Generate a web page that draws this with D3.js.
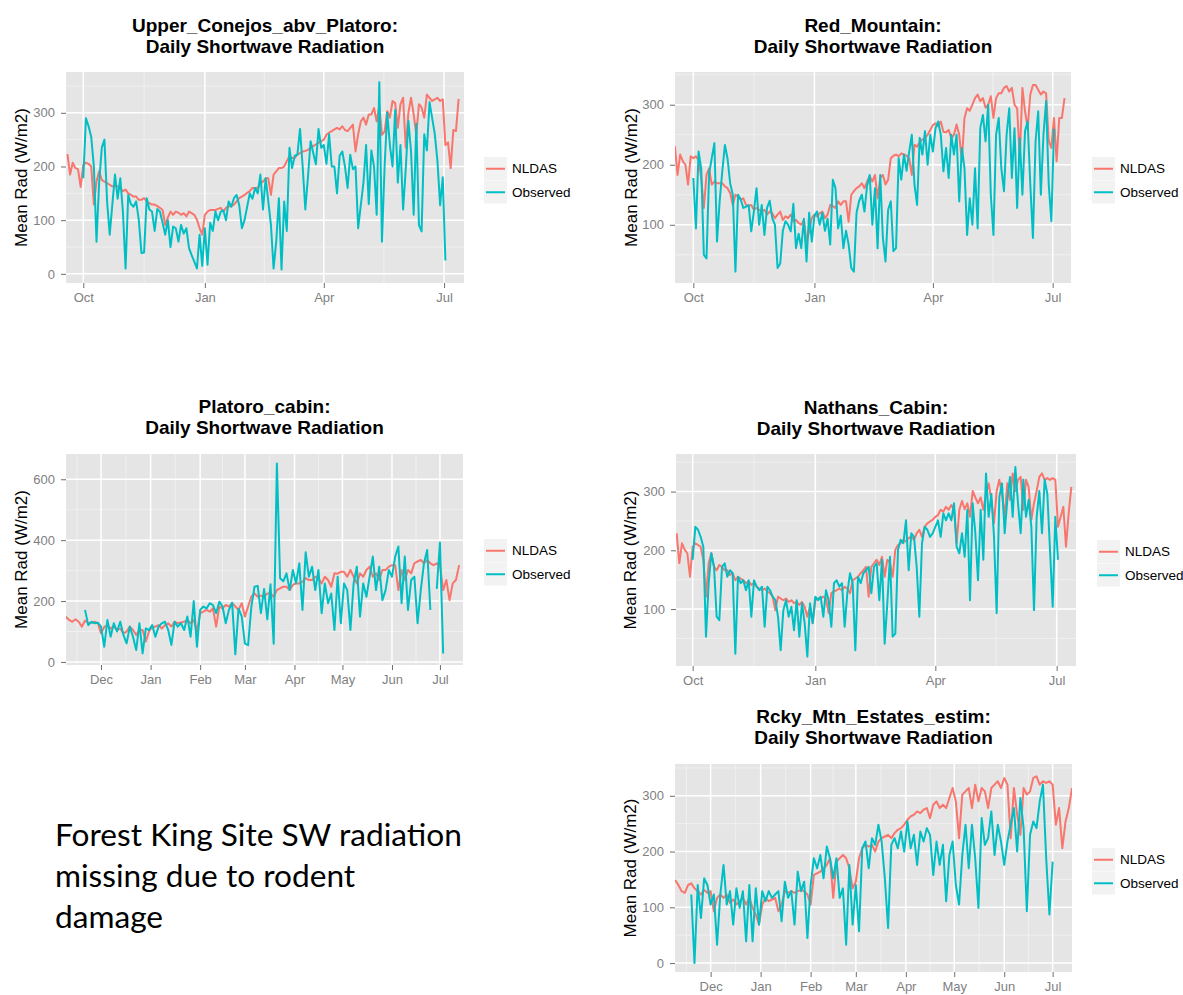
<!DOCTYPE html>
<html>
<head>
<meta charset="utf-8">
<script src="https://cdn.jsdelivr.net/npm/d3@7"></script>
<style>
  body { margin: 0; background: #fff; }
  svg text { font-family: "Liberation Sans", Arial, Helvetica, sans-serif; }
</style>
</head>
<body>
<svg id="chart" width="1183" height="995"></svg>
<script>
// Daily shortwave radiation, NLDAS vs observed, five SNOTEL-ish sites.
// Values every 2nd day (W/m2); null = gap in record.
const STEP_DAYS = 2;
const SERIES = ["NLDAS", "Observed"];
const COLORS = ["#F8766D", "#00BFC4"];

const upperNldasStart = "2013-09-19";
const upperNldas = [223,185,207,197,195,162,203,207,205,200, 129,172,191,175,172,169,166,163,163,163,
  160,154,157,150,147,144,144,138,138,141, 135,132,129,129,126,123,119,91,105,116,
  110,116,114,110,113,107,116,113,110,101, 85,73,110,116,119,119,119,121,123,116,
  123,126,126,129,135,141,144,147,151,154, 160,160,160,169,172,178,178,147,185,191,
  197,197,200,210,219,216,216,222,225,228, 229,231,235,238,241,244,247,250,259,263,
  266,269,272,269,275,268,266,272,278,228, 260,284,291,278,297,297,309,284,313,259,
  265,303,291,322,318,272,316,328,235,300, 328,297,259,316,310,291,334,328,322,325,
  328,322,325,240,245,197,268,266,326];
const upperObsStart = "2013-10-01";
const upperObs = [178,290,275,255,200,60,170,235,250,135, 73,130,185,140,178,115,10,147,130,125,
  135,100,39,40,141,120,116,80,121,116, 95,73,100,50,88,85,60,91,75,85,
  48,35,23,10,73,15,85,17,95,80, 116,100,116,118,100,135,125,141,147,128,
  85,100,125,150,140,160,150,185,120,178, 135,91,10,60,141,8,135,80,235,197,
  220,222,270,200,120,180,247,225,204,270, 235,240,205,260,200,200,150,220,228,200,
  160,222,195,200,85,128,170,240,130,230, 200,110,357,60,200,300,240,200,305,170,
  240,120,195,285,228,110,280,91,79,260, 230,320,290,260,210,128,180,25];

const redNldasStart = "2013-09-17";
const redNldas = [231,183,217,206,200,167,214,211,214,208, 178,128,183,194,167,172,169,169,169,164,
  161,153,133,150,147,142,144,133,131,133, 125,128,125,122,125,117,122,119,111,117,
  122,108,114,111,117,106,108,103,100,108, 72,89,111,117,114,119,122,111,117,133,
  131,128,139,133,139,139,105,150,156,161, 164,169,161,172,181,172,183,144,178,183,
  167,175,211,215,217,214,219,217,215,211, 183,233,230,238,242,244,250,258,266,269,
  264,272,255,254,258,244,250,267,250,206, 278,294,290,300,311,317,306,311,295,300,
  314,278,311,319,319,328,331,322,328,300, 294,211,328,289,261,317,333,333,325,317,
  322,319,240,228,278,206,278,278,311];
const redObsStart = "2013-10-01";
const redObs = [178,94,222,194,50,44,185,211,236,72, 139,189,233,210,169,150,22,150,142,128,
  130,133,89,122,161,100,133,83,128,140, 111,100,28,35,90,106,100,89,135,61,
  85,61,110,39,120,72,115,122,100,120, 90,110,67,175,161,94,115,61,90,67,
  28,22,120,140,150,122,165,183,100,161, 61,183,78,39,125,139,56,61,211,175,
  217,190,222,250,167,133,245,217,256,200, 250,222,261,272,250,189,228,178,250,217,
  250,139,228,194,83,144,100,194,94,261, 283,239,300,150,83,250,278,194,156,250,
  294,178,261,128,244,150,256,272,167,78, 239,289,150,250,306,167,106,260];

const platoroNldasStart = "2013-11-09";
const platoroNldas = [149,138,132,140,132,116,136,127,129,132, 127,94,115,121,110,116,105,110,94,100,
  116,105,89,105,105,67,100,116,116,121, 110,121,127,116,132,127,130,132,138,127,
  138,100,160,165,171,165,176,116,182,176, 187,182,193,182,171,193,149,182,214,225,
  214,218,214,225,225,214,236,242,247,247, 236,253,258,258,264,275,269,269,280,275,
  258,280,269,247,291,290,296,296,280,302, 280,258,291,280,302,313,280,291,269,302,
  302,313,318,318,236,302,269,302,291,324, 330,335,324,335,324,318,324,318,236,269,
  203,258,269,318];
const platoroObsStart = "2013-11-21";
const platoroObs = [171,121,132,127,129,116,50,138,83,127, 100,132,89,61,116,83,39,127,28,110,
  105,121,83,116,127,132,105,56,132,116, 127,105,149,83,200,50,171,182,176,193,
  187,160,198,182,127,171,195,25,175,150, 60,55,180,247,250,160,240,140,255,60,
  652,275,265,291,236,302,258,324,171,360, 280,313,236,302,160,258,193,225,105,280,
  127,258,236,105,258,313,149,258,214,280, 346,236,313,203,236,302,280,346,379,193,
  346,171,269,280,127,236,324,368,171,null, 240,392,28];

const nathansNldasStart = "2013-09-19";
const nathansNldas = [229,178,212,201,195,155,206,212,209,206, 184,121,178,195,172,166,175,172,166,166,
  158,161,149,155,152,149,144,147,141,144, 138,135,132,135,130,127,121,98,121,118,
  115,118,112,115,110,112,107,112,104,87, 104,76,115,118,118,121,118,93,127,130,
  132,135,132,138,135,127,149,152,155,161, 166,172,121,172,178,184,175,189,155,184,
  178,155,201,209,212,218,215,221,223,218, 229,235,223,240,246,249,252,257,260,269,
  266,274,269,277,269,212,269,284,270,280, 257,301,290,280,290,269,296,314,286,246,
  301,320,296,257,314,286,331,301,320,325, 269,320,308,252,280,301,325,331,320,323,
  320,323,320,240,257,274,206,263,308];
const nathansObsStart = "2013-10-01";
const nathansObs = [184,240,235,223,206,53,144,195,172,87, 81,172,178,155,166,161,24,155,144,149,
  132,149,87,149,138,132,138,70,138,132, 121,115,87,30,98,115,87,104,64,115,
  53,110,76,19,110,76,121,115,121,87, 132,115,70,144,149,138,144,70,127,161,
  144,30,155,144,161,166,172,127,172,178, 115,184,41,110,189,53,58,201,218,212,
  251,166,229,223,172,87,212,240,235,223, 229,240,251,223,263,251,263,251,280,206,
  195,229,189,269,115,280,229,149,269,184, 331,257,296,223,93,291,314,229,286,325,
  257,342,280,229,320,257,286,240,98,257, 301,229,320,296,201,104,257,184];

const rckyNldasStart = "2013-11-09";
const rckyNldas = [149,140,129,126,140,143,134,129,123,131, 126,129,93,117,123,117,123,108,114,105,
  111,117,105,117,99,87,69,105,117,111, 114,117,93,105,129,126,129,126,129,131,
  129,123,105,158,161,164,170,176,188,117, 182,188,194,188,170,134,146,188,206,212,
  209,212,200,218,224,227,230,224,233,239, 242,248,257,263,266,272,269,275,278,260,
  284,290,278,284,278,296,314,290,224,302, 308,314,278,320,290,314,308,278,314,320,
  326,314,332,320,224,314,266,230,314,302, 308,332,335,320,326,323,326,320,248,278,
  206,254,278,314];
const rckyObsStart = "2013-11-19";
const rckyObs = [123,0,140,81,152,140,105,123,33,123, 176,105,129,69,134,99,129,39,140,39,
  134,69,129,111,129,117,123,129,75,146, 117,129,69,164,129,146,45,140,188,170,
  194,152,209,188,152,188,117,134,33,176, 69,140,57,206,218,170,224,212,248,218,
  152,63,212,224,206,236,200,254,206,230, 176,236,218,242,230,158,218,176,212,111,
  194,218,140,105,194,248,170,248,188,99, 260,212,224,272,194,248,218,176,218,248,
  278,200,296,242,93,230,254,242,290,320, 188,87,182];

const ticks0to300 = [0, 100, 200, 300];
const ticks100to300 = [100, 200, 300];
const ticks0to600 = [0, 200, 400, 600];
const minor50s = [50, 150, 250, 350];
const minor100s = [100, 300, 500];

const NOTE_LINES = ["Forest King Site SW radiation", "missing due to rodent", "damage"];

// layout of each ggplot image on the page
const panels = [
  { site: "Upper_Conejos_abv_Platoro", nldas: upperNldas, nldasStart: upperNldasStart, obs: upperObs, obsStart: upperObsStart,
    xDomain: ["2013-09-17T22:00", "2014-07-16T02:00"], months: 3, yDomain: [-17, 376], yTicks: ticks0to300, yMinor: minor50s,
    box: [66, 72, 464, 283], titleY: 31.5, yLabelX: 27, legendX: 484, legendY: 157 },
  { site: "Red_Mountain", nldas: redNldas, nldasStart: redNldasStart, obs: redObs, obsStart: redObsStart,
    xDomain: ["2013-09-17T02:00", "2014-07-14T22:00"], months: 3, yDomain: [3, 354.5], yTicks: ticks100to300, yMinor: minor50s,
    box: [675, 72, 1071, 283], titleY: 31.5, yLabelX: 637, legendX: 1092, legendY: 157 },
  { site: "Platoro_cabin", nldas: platoroNldas, nldasStart: platoroNldasStart, obs: platoroObs, obsStart: platoroObsStart,
    xDomain: ["2013-11-09T02:00", "2014-07-15T10:00"], months: 1, yDomain: [-10, 683], yTicks: ticks0to600, yMinor: minor100s,
    box: [66, 454, 463, 665], titleY: 413, yLabelX: 27, legendX: 484, legendY: 539 },
  { site: "Nathans_Cabin", nldas: nathansNldas, nldasStart: nathansNldasStart, obs: nathansObs, obsStart: nathansObsStart,
    xDomain: ["2013-09-18T12:00", "2014-07-15T12:00"], months: 3, yDomain: [3, 364], yTicks: ticks100to300, yMinor: minor50s,
    box: [676, 454, 1076, 666], titleY: 413.5, yLabelX: 636, legendX: 1097, legendY: 540 },
  { site: "Rcky_Mtn_Estates_estim", nldas: rckyNldas, nldasStart: rckyNldasStart, obs: rckyObs, obsStart: rckyObsStart,
    xDomain: ["2013-11-08T22:00", "2014-07-13T00:00"], months: 1, yDomain: [-16, 357], yTicks: ticks0to300, yMinor: minor50s,
    box: [675, 764, 1072, 972], titleY: 723, yLabelX: 636, legendX: 1092, legendY: 848 }
];

const svg = d3.select("#chart");
const parseDay = d3.timeParse("%Y-%m-%d");
const parseTime = d3.timeParse("%Y-%m-%dT%H:%M");

function toPoints(values, start) {
  const t0 = parseDay(start);
  return values.map((v, i) => ({ date: d3.timeDay.offset(t0, i * STEP_DAYS), v }));
}

function drawPanel(p, idx) {
  const [x0, y0, x1, y1] = p.box;
  const x = d3.scaleTime().domain(p.xDomain.map(parseTime)).range([x0, x1]);
  const y = d3.scaleLinear().domain(p.yDomain).range([y1, y0]);
  const [d0, d1] = x.domain();

  const majors = d3.timeMonth.every(p.months).range(d0, d1);
  const ext = [d3.timeMonth.offset(majors[0], -p.months), ...majors, d3.timeMonth.offset(majors[majors.length - 1], p.months)];
  const minors = d3.pairs(ext).map(([a, b]) => new Date((+a + +b) / 2)).filter(d => d >= d0 && d <= d1);

  const g = svg.append("g").attr("class", "panel");

  g.append("rect")
    .attr("x", x0).attr("y", y0)
    .attr("width", x1 - x0).attr("height", y1 - y0)
    .attr("fill", "#E5E5E5");

  // minor grid
  g.append("g").selectAll("line.vmin").data(minors).join("line")
    .attr("x1", d => x(d)).attr("x2", d => x(d)).attr("y1", y0).attr("y2", y1)
    .attr("stroke", "#F2F2F2").attr("stroke-width", 0.8);
  g.append("g").selectAll("line.hmin").data(p.yMinor.filter(v => v > p.yDomain[0] && v < p.yDomain[1])).join("line")
    .attr("x1", x0).attr("x2", x1).attr("y1", d => y(d)).attr("y2", d => y(d))
    .attr("stroke", "#F2F2F2").attr("stroke-width", 0.8);
  // major grid
  g.append("g").selectAll("line").data(majors).join("line")
    .attr("x1", d => x(d)).attr("x2", d => x(d)).attr("y1", y0).attr("y2", y1)
    .attr("stroke", "#fff").attr("stroke-width", 1.5);
  g.append("g").selectAll("line").data(p.yTicks).join("line")
    .attr("x1", x0).attr("x2", x1).attr("y1", d => y(d)).attr("y2", d => y(d))
    .attr("stroke", "#fff").attr("stroke-width", 1.5);

  // series
  const clipId = "clip" + idx;
  g.append("clipPath").attr("id", clipId)
    .append("rect").attr("x", x0).attr("y", y0).attr("width", x1 - x0).attr("height", y1 - y0);
  const line = d3.line().defined(d => d.v != null).x(d => x(d.date)).y(d => y(d.v));
  const sets = [toPoints(p.nldas, p.nldasStart), toPoints(p.obs, p.obsStart)];
  g.append("g").attr("clip-path", `url(#${clipId})`)
    .selectAll("path").data(sets).join("path")
    .attr("d", line)
    .attr("fill", "none")
    .attr("stroke", (d, i) => COLORS[i])
    .attr("stroke-width", 2)
    .attr("stroke-linejoin", "round");

  // axes
  const yAxis = g.append("g").attr("transform", `translate(${x0},0)`)
    .call(d3.axisLeft(y).tickValues(p.yTicks).tickSize(5).tickPadding(6));
  const xAxis = g.append("g").attr("transform", `translate(0,${y1})`)
    .call(d3.axisBottom(x).tickValues(majors).tickFormat(d3.timeFormat("%b")).tickSize(5).tickPadding(5));
  [yAxis, xAxis].forEach(a => {
    a.select(".domain").remove();
    a.selectAll(".tick line").attr("stroke", "#6F6F6F");
    a.selectAll(".tick text").attr("fill", "#7F7F7F").style("font-size", "13px");
  });

  // title
  const cx = (x0 + x1) / 2;
  g.append("text").attr("x", cx).attr("y", p.titleY).attr("text-anchor", "middle")
    .style("font-size", "19px").style("font-weight", "bold").text(p.site + ":");
  g.append("text").attr("x", cx).attr("y", p.titleY + 21).attr("text-anchor", "middle")
    .style("font-size", "19px").style("font-weight", "bold").text("Daily Shortwave Radiation");

  // y label
  g.append("text")
    .attr("transform", `translate(${p.yLabelX},${(y0 + y1) / 2}) rotate(-90)`)
    .attr("text-anchor", "middle")
    .style("font-size", "17px")
    .text("Mean Rad (W/m2)");

  // legend
  const keyW = 23, keyH = 23.5;
  const lg = g.append("g").attr("transform", `translate(${p.legendX},${p.legendY})`);
  const item = lg.selectAll("g").data(SERIES).join("g")
    .attr("transform", (d, i) => `translate(0,${i * keyH})`);
  item.append("rect").attr("width", keyW).attr("height", keyH - 0.5).attr("fill", "#F2F2F2");
  item.append("line").attr("x1", 2).attr("x2", keyW - 2).attr("y1", keyH / 2).attr("y2", keyH / 2)
    .attr("stroke", (d, i) => COLORS[i]).attr("stroke-width", 2);
  item.append("text").attr("x", keyW + 5).attr("y", keyH / 2).attr("dy", "0.35em")
    .style("font-size", "13.5px").text(d => d);
}

panels.forEach(drawPanel);

// note where the missing site would be
const note = svg.append("g").attr("transform", "translate(55,0)");
const noteText = note.selectAll("text").data(NOTE_LINES).join("text")
  .attr("x", 0).attr("y", (d, i) => 846 + i * 41)
  .style("font-family", "Lato, 'Open Sans', sans-serif")
  .style("font-size", "28px")
  .attr("fill", "#000")
  .text(d => d);
const w = noteText.node().getComputedTextLength();
noteText.style("font-size", (28 * 407 / w).toFixed(2) + "px");
</script>
</body>
</html>
